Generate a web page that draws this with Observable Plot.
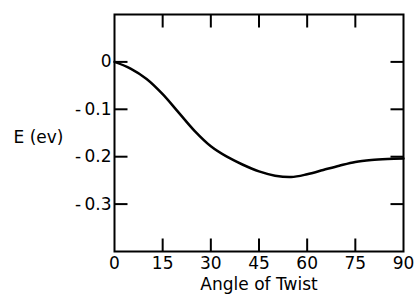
<!DOCTYPE html>
<html>
<head>
<meta charset="utf-8">
<script src="https://cdn.jsdelivr.net/npm/d3@7"></script>
<script src="https://cdn.jsdelivr.net/npm/@observablehq/plot@0.6"></script>
<style>
  body { margin: 0; background: #fff; }
</style>
</head>
<body>
<div id="chart"></div>
<script>
const angles = [0, 5, 10, 15, 20, 25, 30, 35, 40, 45, 50, 55, 60, 65, 70, 75, 80, 85, 90];
const energies = [0, -0.014, -0.036, -0.068, -0.107, -0.146, -0.178, -0.200, -0.217, -0.231, -0.240, -0.243, -0.237, -0.228, -0.219, -0.211, -0.207, -0.205, -0.204];
const xTickLabels = [0, 15, 30, 45, 60, 75, 90];
const xInnerTicks = [15, 30, 45, 60, 75];
const yTickLabels = [0, -0.1, -0.2, -0.3];
const xLabel = "Angle of Twist";
const yLabel = "E (ev)";
const xDomain = [0, 90];
const yDomain = [-0.4, 0.1];

const data = angles.map((a, i) => ({angle: a, E: energies[i]}));
const fmtY = d => d === 0 ? "0" : "-\u2009" + d3.format(".1f")(Math.abs(d));

const W = 415, H = 304, mL = 114, mR = 12, mT = 14, mB = 53;
const frameW = W - mL - mR, frameH = H - mT - mB;
const tickLen = 13;
// tick length expressed in data units, derived from the scale extents
const dyTick = (yDomain[1] - yDomain[0]) * tickLen / frameH;
const dxTick = (xDomain[1] - xDomain[0]) * tickLen / frameW;

const tickStyle = {stroke: "#000", strokeWidth: 2, strokeLinecap: "butt"};

const plot = Plot.plot({
  width: W,
  height: H,
  marginLeft: mL,
  marginRight: mR,
  marginTop: mT,
  marginBottom: mB,
  style: {fontSize: "17px", fontFamily: "DejaVu Sans, sans-serif", color: "#000", background: "#fff"},
  x: {domain: xDomain, axis: null},
  y: {domain: yDomain, axis: null},
  marks: [
    Plot.frame({stroke: "#000", strokeWidth: 2}),
    // tick labels
    Plot.text(xTickLabels, {x: d => d, text: d => String(d), frameAnchor: "bottom", dy: 5, lineAnchor: "top", fontSize: 17, fill: "#000"}),
    Plot.text(yTickLabels, {y: d => d, text: fmtY, frameAnchor: "left", dx: -3, textAnchor: "end", fontSize: 17, fill: "#000"}),
    // axis titles
    Plot.text([xLabel], {frameAnchor: "bottom", dy: 38, lineAnchor: "bottom", fontSize: 17, fill: "#000"}),
    Plot.text([yLabel], {frameAnchor: "left", dx: -101, dy: 5, textAnchor: "start", fontSize: 17, fill: "#000"}),
    Plot.line(data, {x: "angle", y: "E", curve: "catmull-rom", stroke: "#000", strokeWidth: 2.5}),
    // inward ticks on all four sides
    Plot.link(xInnerTicks, {x1: d => d, x2: d => d, y1: () => yDomain[0], y2: () => yDomain[0] + dyTick, ...tickStyle}),
    Plot.link(xInnerTicks, {x1: d => d, x2: d => d, y1: () => yDomain[1] - dyTick, y2: () => yDomain[1], ...tickStyle}),
    Plot.link(yTickLabels, {y1: d => d, y2: d => d, x1: () => xDomain[0], x2: () => xDomain[0] + dxTick, ...tickStyle}),
    Plot.link(yTickLabels, {y1: d => d, y2: d => d, x1: () => xDomain[1] - dxTick, x2: () => xDomain[1], ...tickStyle})
  ]
});
document.getElementById("chart").appendChild(plot);
</script>
</body>
</html>
